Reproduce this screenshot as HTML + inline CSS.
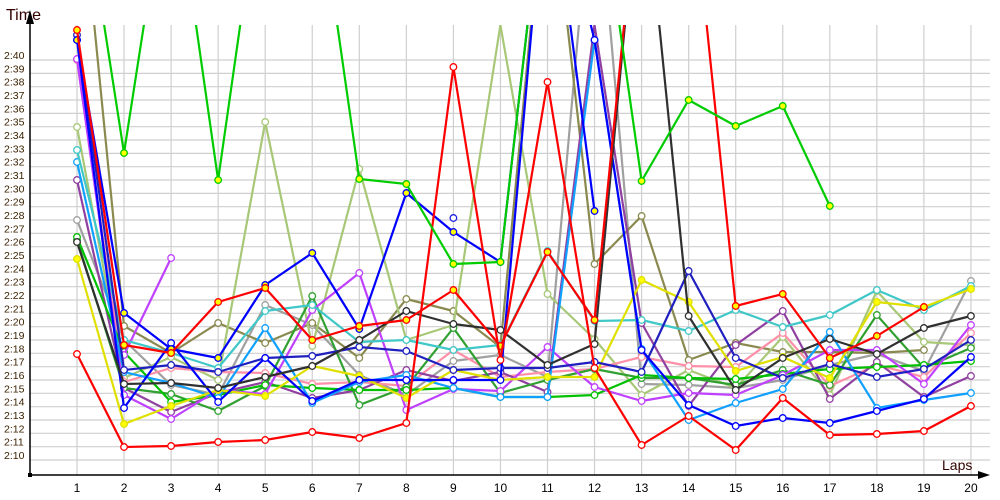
<!DOCTYPE html>
<html><head><meta charset="utf-8"><style>
html,body{margin:0;padding:0;background:#fff;}
svg{display:block;font-family:"Liberation Sans",sans-serif;}
</style></head><body>
<svg id="c" width="1000" height="500" viewBox="0 0 1000 500" xmlns="http://www.w3.org/2000/svg">
<defs><clipPath id="pa"><rect x="30" y="25" width="960" height="450"/></clipPath></defs>
<g id="grid"></g>
<text x="6" y="20" font-size="16" fill="#300">Time</text>
<text x="942" y="470" font-size="14" fill="#300">Laps</text>
<line x1="30" y1="475" x2="30" y2="22" stroke="#000" stroke-width="1.5"/>
<polygon points="30,10 26,24 34,24" fill="#000"/>
<line x1="30" y1="475" x2="985" y2="475" stroke="#000" stroke-width="1.5"/>
<polygon points="990,475 978,471 978,479" fill="#000"/>
<rect x="28" y="473" width="4" height="4" fill="#000"/>
<g id="ser" clip-path="url(#pa)"></g>
</svg>
<script>
var NS="http://www.w3.org/2000/svg",svg=document.getElementById('c'),grid=document.getElementById('grid'),ser=document.getElementById('ser');
function el(t,a,p){var e=document.createElementNS(NS,t);for(var k in a)e.setAttribute(k,a[k]);(p||svg).appendChild(e);return e;}
var X=[];for(var i=0;i<20;i++)X.push(77+i*47.05);
for(var k=0;k<=30;k++){var y=460-k*13.333;el('line',{x1:30,y1:y,x2:990,y2:y,stroke:'#cfcfcf','stroke-width':1.2},grid);
 var t=el('text',{x:4,y:y-1,'font-size':10.5,fill:'#3a2200'},grid);var s=10+k;t.textContent='2:'+(s<10?'0'+s:s);}
for(var i=0;i<20;i++){el('line',{x1:X[i],y1:25,x2:X[i],y2:475,stroke:'#cfcfcf','stroke-width':1.2},grid);
 var t=el('text',{x:X[i],y:492,'font-size':12,fill:'#000','text-anchor':'middle'},grid);t.textContent=i+1;}
var N=null,U=-150;
var S=[
['#a0a0a0',0,[220,340,385,395,305,325,375,395,361,355,377,U,384,385,388,380,365,354,371,281]],
['#8a8a50',0,[U,326,353,323,343,323,358,299,311,347,U,264,216,360,343,352,352,353,350,N]],
['#a8c878',0,[127,378,357,380,122,346,169,340,325,25,294,339,395,370,388,337,395,291,342,345]],
['#ff90a8',0,[60,382,368,372,373,384,382,386,350,377,372,369,357,366,367,333,386,365,377,333]],
['#9040a0',0,[180,388,412,393,382,398,390,370,381,372,392,25,323,406,345,311,399,362,397,376]],
['#30a030',0,[240,388,394,411,386,296,405,387,328,393,380,369,378,378,385,370,385,315,368,348]],
['#00c000',0,[237,352,402,395,385,388,390,390,388,397,397,395,375,378,379,374,369,367,365,361]],
['#c040ff',0,[59,395,419,390,394,310,273,410,389,391,347,387,401,393,395,375,350,350,384,325]],
['#c040ff',0,[N,355,258,N,N,N,N,N,N,N,N,N,N,N,N,N,N,N,N,N]],
['#10a0ff',0,[162,372,383,398,328,403,382,375,388,397,397,40,349,420,403,389,332,408,400,393]],
['#40c8c8',0,[150,340,353,368,311,305,342,340,350,345,251,321,320,331,310,327,315,290,310,286]],
['#e0e000',1,[259,424,406,390,396,366,376,398,370,380,377,377,280,302,371,357,378,302,307,289]],
['#2020c0',0,[35,370,365,372,358,356,347,351,370,368,368,362,372,271,358,378,364,377,369,340]],
['#0000ff',0,[40,408,343,402,358,401,380,380,380,380,U,40,350,405,426,418,423,411,399,357]],
['#303030',0,[242,384,383,388,377,366,340,311,324,330,365,344,U,316,390,358,339,354,328,316]],
['#0000ff',1,[40,313,349,358,285,253,329,193,232,262,U,211,N,N,N,N,N,N,N,N]],
['#2020e0',0,[N,N,N,N,N,N,N,N,218,N,N,N,N,N,N,N,N,N,N,N]],
['#ff0000',1,[30,345,353,302,288,340,326,320,290,346,252,320,U,U,306,294,358,336,307,N]],
['#ff0000',0,[354,447,446,442,440,432,438,423,67,360,82,368,445,416,450,398,435,434,431,406]],
['#00cc00',1,[U,153,U,180,U,U,179,184,264,262,U,U,181,100,126,106,206,N,N,N]]
];
S.forEach(function(s){
 var c=s[0],yf=s[1],d=s[2],pts=[];
 function flush(){if(pts.length>1)el('polyline',{points:pts.join(' '),fill:'none',stroke:c,'stroke-width':2.2,'stroke-linejoin':'round'},ser);pts=[];}
 for(var i=0;i<20;i++){if(d[i]===N||d[i]===undefined){flush();continue;}pts.push(X[i].toFixed(1)+','+d[i]);}
 flush();
 for(var i=0;i<20;i++){var y=d[i];if(y===N||y===undefined||y<=25)continue;
  el('circle',{cx:X[i],cy:y,r:3.3,fill:yf?'#ffff00':'#fff',stroke:c,'stroke-width':1.3},ser);}
});
</script>
</body></html>
